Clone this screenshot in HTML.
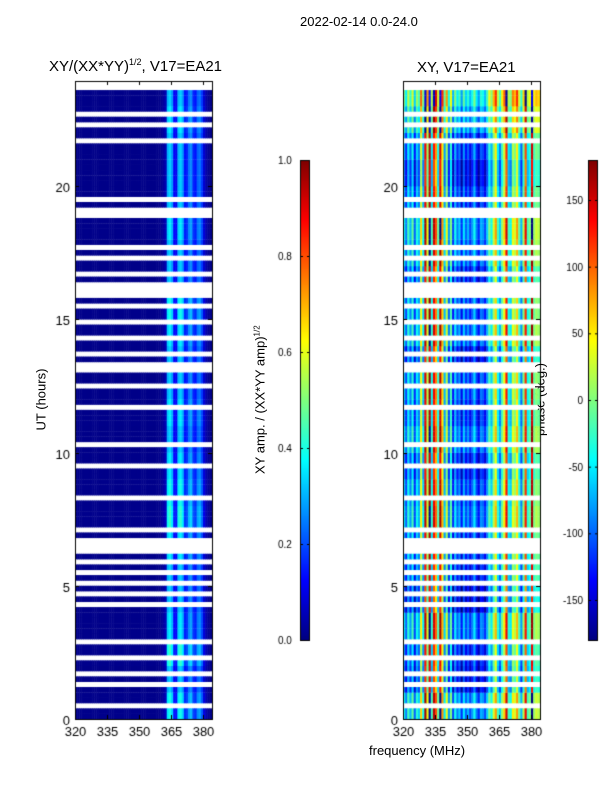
<!DOCTYPE html>
<html><head><meta charset="utf-8">
<style>
body{margin:0;background:#fff;font-family:"Liberation Sans",sans-serif;}
#wrap{position:relative;width:600px;height:800px;overflow:hidden;background:#fff;}
.t{position:absolute;font-size:13px;color:#000;white-space:nowrap;}
canvas{position:absolute;}
</style></head><body>
<div id="wrap">
<div class="t" style="left:300px;top:14px;">2022-02-14 0.0-24.0</div>
<div class="t" style="left:49px;top:57px;font-size:15px;">XY/(XX*YY)<sup style="font-size:9px">1/2</sup>, V17=EA21</div>
<div class="t" style="left:417px;top:59px;font-size:15px;">XY, V17=EA21</div>
<div class="t" style="left:369px;top:743px;">frequency (MHz)</div>
<div class="t" style="left:0px;top:392px;width:82px;text-align:center;transform:rotate(-90deg);">UT (hours)</div>
<div class="t" style="left:180px;top:392px;width:160px;text-align:center;transform:rotate(-90deg);">XY amp. / (XX*YY amp)<sup style="font-size:8px">1/2</sup></div>
<div class="t" style="left:490px;top:392px;width:100px;text-align:center;transform:rotate(-90deg);">phase (deg.)</div>
<canvas id="c" width="600" height="800"></canvas>
</div>
<script>
// ---- data ----
const maskStr = "11011"+"10101"+"10110"+"11111"+"10101"+"01010"+"10001"+"01111"+"10111"+"11011"+
"10111"+"11101"+"11011"+"00101"+"10110"+"11010"+"00101"+"10101"+"11110"+"01011"+
"11111"+"11101"+"10101"+"11100";
const rowGain = [1.2,1.0,1.3,1.1,1.0,1.0,1.1,1.3,1.2,1.1,1.0,1.1,1.0,1.0,1.1,1.2,1.0,1.0,1.1,1.0,1.0,1.0,1.1,1.0];
// amplitude per 1 MHz channel 320..383
const ampProfile = [0.01,0.01,0.01,0.01,0.01,0.01,0.01,0.01,0.01,0.01,0.01,0.01,0.01,0.01,0.01,0.01,0.01,0.01,0.01,0.01,
0.01,0.01,0.01,0.01,0.01,0.01,0.01,0.01,0.01,0.01,0.01,0.01,0.01,0.01,0.01,0.01,0.01,0.01,0.01,0.01,
0.02,0.03,0.05,0.30,0.33,0.28,0.12,0.11,0.30,0.33,0.28,0.14,0.16,0.24,0.26,0.16,0.14,0.22,0.24,0.18,0.08,0.04,0.02,0.01];
// phase per hour band (deg) and per channel offset
const rowPhase = [20,-30,-20,10,-40,-20,-10,10,0,-20,10,-10,0,-30,10,0,-20,10,20,-10,-30,-10,30,60];
const colPhase = [-60,-110,-40,-90,-30,-120,-50,-80,40,-60,150,20,170,-40,140,90,-30,160,60,-70,
20,-100,-20,-130,-60,-110,-80,-140,-70,-120,-90,-130,-100,-60,-110,-140,-90,-100,-130,-80,
-20,-60,10,60,-40,-80,-10,40,130,-40,-60,30,10,60,-30,-90,0,120,-40,-20,160,-10,10,0];
const ampTicks = ["0.0","0.2","0.4","0.6","0.8","1.0"];
const phaseTicks = ["-150","-100","-50","0","50","100","150"];
const xTicks = ["320","335","350","365","380"];
const yTicks = ["0","5","10","15","20"];
// ---- axes ----
const L={x0:75,x1:212}, R={x0:403,x1:540}, yTop=81, yBot=719;
const fx=(ax,f)=>ax.x0+(f-320)*(32/15);
const fy=t=>719-t*26.65;
function jet(v){v=Math.max(0,Math.min(1,v));
 const r=Math.max(0,Math.min(1,1.5-Math.abs(4*v-3)));
 const g=Math.max(0,Math.min(1,1.5-Math.abs(4*v-2)));
 const b=Math.max(0,Math.min(1,1.5-Math.abs(4*v-1)));
 return `rgb(${r*255|0},${g*255|0},${b*255|0})`;}
const ctx=document.getElementById('c').getContext('2d');
const nRows=maskStr.length, dt=24/nRows;
for(let i=0;i<nRows;i++){
 if(maskStr[i]!=='1') continue;
 const t0=i*dt, y0=fy(t0+dt), h=fy(t0)-fy(t0+dt);
 const hb=Math.floor(t0);
 for(let j=0;j<ampProfile.length;j++){
  const f=320+j;
  const xa=fx(L,f), xb=Math.min(fx(L,f+1),L.x1);
  if(xa>=L.x1) continue;
  ctx.fillStyle=jet(ampProfile[j]*rowGain[hb]);
  ctx.fillRect(xa,y0,xb-xa+0.5,h+0.3);
  let p=rowPhase[hb]+colPhase[j]; p=((p+180)%360+360)%360-180;
  const xr=fx(R,f), xrb=Math.min(fx(R,f+1),R.x1);
  ctx.fillStyle=jet((p+180)/360);
  ctx.fillRect(xr,y0,xrb-xr+0.5,h+0.3);
 }
}
ctx.strokeStyle='#000';ctx.lineWidth=1;ctx.fillStyle='#000';
ctx.font='13px "Liberation Sans", sans-serif';
[L,R].forEach(ax=>{
 ctx.strokeRect(ax.x0+0.5,yTop+0.5,ax.x1-ax.x0,yBot-yTop);
 xTicks.forEach(s=>{const x=Math.round(fx(ax,+s))+0.5;
  ctx.beginPath();ctx.moveTo(x,yBot);ctx.lineTo(x,yBot-4);ctx.moveTo(x,yTop);ctx.lineTo(x,yTop+4);ctx.stroke();
  ctx.fillStyle='#000';ctx.textAlign='center';ctx.fillText(s,x,yBot+17);});
 yTicks.forEach(s=>{const y=Math.round(fy(+s))+0.5;
  ctx.beginPath();ctx.moveTo(ax.x0,y);ctx.lineTo(ax.x0+4,y);ctx.moveTo(ax.x1,y);ctx.lineTo(ax.x1-4,y);ctx.stroke();
  ctx.fillStyle='#000';ctx.textAlign='right';ctx.fillText(s,ax.x0-5,y+5);});
});
// colorbars
function cbar(x,top,bot){for(let y=top;y<bot;y++){ctx.fillStyle=jet(1-(y-top)/(bot-top));ctx.fillRect(x,y,10,1);}
 ctx.strokeRect(x+0.5,top+0.5,9,bot-top);}
cbar(300,160,640);cbar(588,160,640);
ctx.fillStyle='#000';
ctx.font='10px "Liberation Sans", sans-serif';ctx.textAlign='left';
ampTicks.forEach(s=>{const y=640-(+s)*480;ctx.beginPath();ctx.moveTo(300,y+0.5);ctx.lineTo(303,y+0.5);ctx.moveTo(310,y+0.5);ctx.lineTo(307,y+0.5);ctx.stroke();ctx.fillStyle='#000';ctx.textAlign='left';ctx.fillText(s,278,y+4);});
phaseTicks.forEach(s=>{const y=400-(+s)*(480/360);ctx.beginPath();ctx.moveTo(588,y+0.5);ctx.lineTo(591,y+0.5);ctx.moveTo(598,y+0.5);ctx.lineTo(595,y+0.5);ctx.stroke();ctx.fillStyle='#000';ctx.textAlign='right';ctx.fillText(s,583,y+4);});
</script>
</body></html>
